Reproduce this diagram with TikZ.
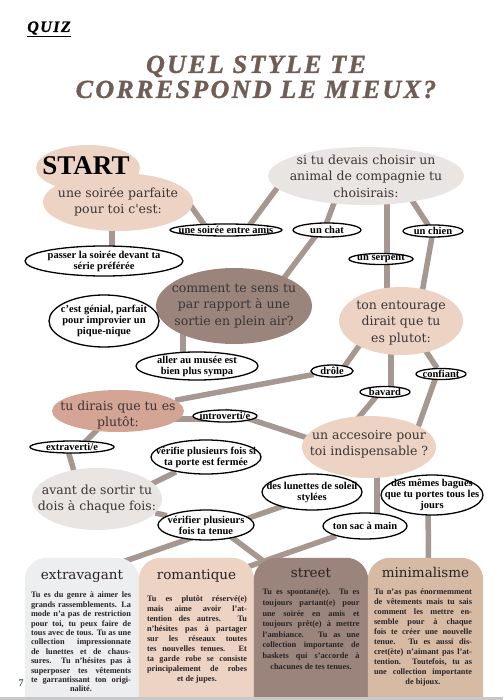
\documentclass[tikz,border=0pt]{standalone}
\usepackage{fontspec}
\setmainfont{Liberation Serif}
\newfontfamily\qfont{DejaVu Serif}
\newfontfamily\titlefont[LetterSpace=9, FakeBold=1.2]{Liberation Serif Bold Italic}
\usetikzlibrary{shapes.geometric}
\pgfdeclarelayer{bg}
\pgfsetlayers{bg,main}

\definecolor{peach}{HTML}{ECD3C4}
\definecolor{pale}{HTML}{E9E5E2}
\definecolor{mauve}{HTML}{9A847B}
\definecolor{salmon}{HTML}{D4A494}
\definecolor{cardgray}{HTML}{EDEEF0}
\definecolor{tan}{HTML}{D6BAA4}
\definecolor{linkcol}{HTML}{A69890}
\definecolor{titlecol}{HTML}{705E56}
\definecolor{qink}{HTML}{3B3536}
\definecolor{cardink}{HTML}{2A2325}
\definecolor{bandgray}{HTML}{C8C8C8}

% justified lines, last line centred
\newcommand\cardpar{\leftskip=0pt plus 1fil\rightskip=0pt plus -1fil\parfillskip=0pt plus 2fil}

\tikzset{
  quest/.style={ellipse, inner sep=0pt},
  qtext/.style={font=\qfont\fontsize{12.5}{16.5}\selectfont, text=qink, align=center},
  answer/.style={ellipse, draw=black, line width=1.3pt, fill=white, inner sep=0pt},
  atext/.style={font=\bfseries\fontsize{10.5}{11}\selectfont, align=center},
  link/.style={line width=5.5pt, draw=linkcol},
  card/.style={minimum width=114pt, minimum height=139pt, inner sep=0pt},
  cardtitle/.style={font=\qfont\fontsize{13.5}{14}\selectfont, text=cardink, anchor=base},
  cardtext/.style={font=\bfseries\fontsize{8.3}{#1}\selectfont, text=cardink, anchor=north, inner sep=0pt},
}

\begin{document}
\begin{tikzpicture}[x=1pt, y=-1pt]
  \useasboundingbox (0,0) rectangle (503,700);

  % header
  \node[font=\titlefont\fontsize{16}{16}\selectfont] (quiz) at (49,29) {\underline{QUIZ}};
  \node[font=\titlefont\fontsize{26}{25}\selectfont, text=titlecol, align=center] (title) at (256,77) {QUEL STYLE TE\\CORRESPOND LE MIEUX?};

  % questions
  \node[quest, fill=peach, minimum width=104pt, minimum height=46pt] (start) at (88,168) {};
  \node[quest, fill=peach, minimum width=150pt, minimum height=58pt,
    label={[qtext]center:{une soirée parfaite\\pour toi c'est:}}] (soiree) at (118,202) {};
  \node[font=\bfseries\fontsize{27}{27}\selectfont] (starttxt) at (86,166) {START};
  \node[quest, fill=pale, minimum width=196pt, minimum height=58pt,
    label={[qtext]center:{si tu devais choisir un\\animal de compagnie tu\\choisirais:}}] (animal) at (366,176) {};
  \node[quest, fill=mauve, minimum width=156pt, minimum height=76pt,
    label={[qtext]center:{comment te sens tu\\par rapport à une\\sortie en plein air?}}] (comment) at (234,306) {};
  \node[quest, fill=peach, minimum width=124pt, minimum height=68pt,
    label={[qtext, yshift=-2pt]center:{ton entourage\\dirait que tu\\es plutot:}}] (entourage) at (401,321) {};
  \node[quest, fill=salmon, minimum width=132pt, minimum height=42pt,
    label={[qtext, yshift=-4pt]center:{tu dirais que tu es\\plutôt:}}] (dirais) at (118,411) {};
  \node[quest, fill=pale, minimum width=130pt, minimum height=62pt,
    label={[qtext]center:{avant de sortir tu\\dois à chaque fois:}}] (avant) at (97,499) {};
  \node[quest, fill=peach, minimum width=134pt, minimum height=62pt,
    label={[qtext, yshift=3pt]center:{un accesoire pour\\toi indispensable ?}}] (accessoire) at (369,447) {};

  % answers
  \node[answer, minimum width=112pt, minimum height=12pt, label={[atext]center:une soirée entre amis}] (amis) at (226,230) {};
  \node[answer, minimum width=68pt, minimum height=14pt, label={[atext]center:un chat}] (chat) at (327,230) {};
  \node[answer, minimum width=60pt, minimum height=12pt, label={[atext]center:un chien}] (chien) at (433,231) {};
  \node[answer, minimum width=64pt, minimum height=11pt, label={[atext]center:un serpent}] (serpent) at (381,259) {};
  \node[answer, minimum width=158pt, minimum height=30pt, label={[atext]center:{passer la soirée devant ta\\série préférée}}] (passer) at (104,261) {};
  \node[answer, minimum width=110pt, minimum height=52pt, label={[atext]center:{c'est génial, parfait\\pour improvier un\\pique-nique}}] (genial) at (104,321) {};
  \node[answer, minimum width=122pt, minimum height=28pt, label={[atext]center:{aller au musée est\\bien plus sympa}}] (musee) at (197,366) {};
  \node[answer, minimum width=42pt, minimum height=12pt, label={[atext]center:drôle}] (drole) at (332,371) {};
  \node[answer, minimum width=50pt, minimum height=11pt, label={[atext]center:confiant}] (confiant) at (441,374) {};
  \node[answer, minimum width=50pt, minimum height=11pt, label={[atext]center:bavard}] (bavard) at (385,392) {};
  \node[answer, minimum width=64pt, minimum height=12pt, label={[atext]center:introverti/e}] (introverti) at (225,416) {};
  \node[answer, minimum width=84pt, minimum height=12pt, label={[atext]center:extraverti/e}] (extraverti) at (72,447) {};
  \node[answer, minimum width=110pt, minimum height=34pt, label={[atext]center:{vérifie plusieurs fois si\\ta porte est fermée}}] (porte) at (206,457) {};
  \node[answer, minimum width=96pt, minimum height=30pt, label={[atext]center:{vérifier plusieurs\\fois ta tenue}}] (tenue) at (206,525) {};
  \node[answer, minimum width=100pt, minimum height=36pt, label={[atext]center:{des lunettes de soleil\\stylées}}] (lunettes) at (312,492) {};
  \node[answer, minimum width=102pt, minimum height=40pt, label={[atext]center:{des mêmes bagues\\que tu portes tous les\\jours}}] (bagues) at (432,495) {};
  \node[answer, minimum width=84pt, minimum height=26pt, label={[atext]center:ton sac à main}] (sac) at (365,526) {};

  % result cards
  \node[card] (extra) at (82,627.5) {};
  \fill[cardgray, rounded corners=22pt] (extra.south west) -- (extra.north west) -- (extra.north east) -- (extra.south east);
  \node[cardtitle] (extra-t) at (82,579) {extravagant};
  \node[cardtext=9.4pt] (extra-x) at (81,592) {\parbox[t]{100pt}{\cardpar Tu es du genre à aimer les\linebreak
    grands rassemblements. La\linebreak mode n'a pas de restriction\linebreak
    pour toi, tu peux faire de\linebreak tous avec de tous. Tu as une\linebreak
    collection impressionnate\linebreak de lunettes et de chaus-\linebreak
    sures. Tu n'hésites pas à\linebreak superposer tes vêtements\linebreak
    te garrantissant ton origi-\linebreak nalité.}};

  \node[card, minimum width=115pt] (roman) at (196.5,627.5) {};
  \fill[peach, rounded corners=22pt] (roman.south west) -- (roman.north west) -- (roman.north east) -- (roman.south east);
  \node[cardtitle] (roman-t) at (196.5,579) {romantique};
  \node[cardtext=10pt] (roman-x) at (197,595) {\parbox[t]{100pt}{\cardpar Tu es plutôt réservé(e)\linebreak
    mais aime avoir l'at-\linebreak tention des autres. Tu\linebreak
    n'hésites pas à partager\linebreak sur les réseaux toutes\linebreak
    tes nouvelles tenues. Et\linebreak ta garde robe se consiste\linebreak
    principalement de robes\linebreak et de jupes.}};

  \node[card] (street) at (311,627.5) {};
  \fill[mauve, rounded corners=22pt] (street.south west) -- (street.north west) -- (street.north east) -- (street.south east);
  \node[cardtitle] (street-t) at (311,577) {street};
  \node[cardtext=10.6pt] (street-x) at (311,589) {\parbox[t]{97pt}{\cardpar Tu es spontané(e). Tu es\linebreak
    toujours partant(e) pour\linebreak une soirée en amis et\linebreak
    toujours prêt(e) à mettre\linebreak l'ambiance. Tu as une\linebreak
    collection importante de\linebreak baskets qui s'accorde à\linebreak
    chacunes de tes tenues.}};

  \node[card, minimum width=115pt] (mini) at (425.5,627.5) {};
  \fill[tan, rounded corners=22pt] (mini.south west) -- (mini.north west) -- (mini.north east) -- (mini.south east);
  \node[cardtitle] (mini-t) at (425.5,577) {minimalisme};
  \node[cardtext=10pt] (mini-x) at (423,589) {\parbox[t]{98pt}{\cardpar Tu n'as pas énormemment\linebreak
    de vêtements mais tu sais\linebreak comment les mettre en-\linebreak
    semble pour à chaque\linebreak fois te créer une nouvelle\linebreak
    tenue. Tu es aussi dis-\linebreak cret(ète) n'aimant pas l'at-\linebreak
    tention. Toutefois, tu as\linebreak une collection importante\linebreak
    de bijoux.}};

  % page foot
  \fill[bandgray] (0,697) rectangle (503,700);
  \node[font=\fontsize{10}{10}\selectfont] (page) at (21,683) {7};

  % connectors
  \begin{pgfonlayer}{bg}
    \draw[link] ([xshift=-6pt]soiree.center) -- ([xshift=8pt]passer.center);
    \draw[link] ([xshift=70pt]soiree.center) -- ([xshift=-18pt]amis.center);
    \draw[link] ([xshift=20pt]amis.center) -- ([xshift=-80pt]animal.center);
    \draw[link] ([xshift=-22pt]animal.center) -- ([xshift=-3pt]chat.center);
    \draw[link] ([xshift=-7pt]chat.center) -- ([xshift=29pt]comment.center);
    \draw[link] ([xshift=21pt]animal.center) -- ([xshift=6pt]serpent.center);
    \draw[link] ([xshift=6pt]serpent.center) -- ([xshift=-14pt]entourage.center);
    \draw[link] ([xshift=30pt]animal.center) -- ([xshift=-1pt]chien.center);
    \draw[link] (chien.center) -- ([xshift=16pt]entourage.center);
    \draw[link] (comment) -- (genial);
    \draw[link] ([xshift=-51pt]comment.center) -- ([xshift=-14pt]musee.center);
    \draw[link] ([xshift=-24pt]entourage.center) -- ([xshift=9pt]drole.center);
    \draw[link] (drole) -- (dirais);
    \draw[link] ([xshift=-10pt]entourage.center) -- ([xshift=6pt]bavard.center);
    \draw[link] ([xshift=5pt]entourage.center) -- (confiant);
    \draw[link] ([xshift=-5pt]bavard.center) -- ([xshift=-35pt]accessoire.center);
    \draw[link] ([xshift=-4pt]confiant.center) -- ([xshift=42pt]accessoire.center);
    \draw[link] ([yshift=-8pt]dirais.center) -- ([yshift=-3pt]introverti.center);
    \draw[link] ([yshift=5pt]introverti.center) -- ([xshift=-40pt,yshift=2pt]accessoire.center);
    \draw[link] ([xshift=-2pt]dirais.center) -- ([xshift=8pt]extraverti.center);
    \draw[link] ([xshift=-5pt]extraverti.center) -- ([xshift=-15pt]avant.center);
    \draw[link] ([yshift=-12pt]avant.center) -- (porte);
    \draw[link] (avant) -- (tenue);
    \draw[link] ([yshift=-4pt]lunettes.center) -- ([xshift=18pt,yshift=-12pt]extra.north);
    \draw[link] ([yshift=7pt]tenue.center) -- ([xshift=-36pt,yshift=-12pt]street.north);
    \draw[link] (sac) -- ([xshift=34pt,yshift=-15pt]roman.north);
    \draw[link] ([xshift=8pt]accessoire.center) -- ([xshift=12pt]sac.center);
    \draw[link] ([xshift=-4pt]bagues.center) -- ([xshift=3pt,yshift=-10pt]mini.north);
  \end{pgfonlayer}
\end{tikzpicture}
\end{document}
